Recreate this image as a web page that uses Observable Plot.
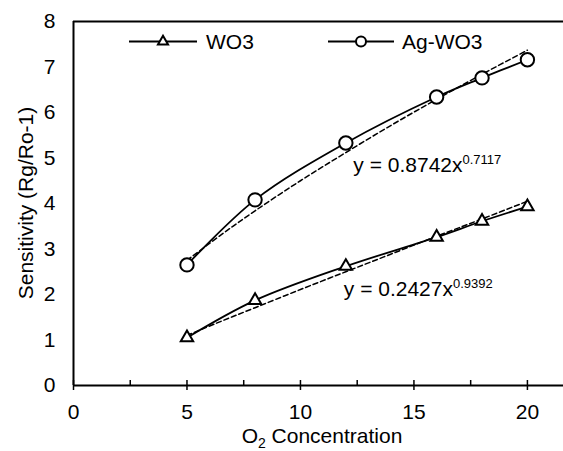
<!DOCTYPE html>
<html>
<head>
<meta charset="utf-8">
<script src="https://cdn.jsdelivr.net/npm/d3@7"></script>
<script src="https://cdn.jsdelivr.net/npm/@observablehq/plot@0.6"></script>
<style>
  html, body { margin: 0; padding: 0; background: #fff; }
  #wrap { position: relative; width: 563px; height: 451px; font-family: "Liberation Sans", Arial, sans-serif; }
  #legend { position: absolute; left: 0; top: 0; pointer-events: none; }
</style>
</head>
<body>
<div id="wrap"></div>
<script>
// ---- data ----
const concentrations = [5, 8, 12, 16, 18, 20];
const wo3Values = [1.05, 1.87, 2.62, 3.26, 3.61, 3.93];
const agWo3Values = [2.65, 4.08, 5.33, 6.34, 6.76, 7.16];
const trendX = [5, 6.5, 8, 10, 12, 14, 16, 18, 20];
const wo3Trend = [1.10, 1.41, 1.71, 2.11, 2.50, 2.89, 3.28, 3.66, 4.05];
const agWo3Trend = [2.75, 3.31, 3.84, 4.50, 5.12, 5.72, 6.29, 6.84, 7.37];
const seriesNames = ["WO3", "Ag-WO3"];
const xMajorTicks = [0, 5, 10, 15, 20];
const xInnerTicks = [0, 2.5, 5, 7.5, 10, 12.5, 15, 17.5, 20];
const yTicks = [0, 1, 2, 3, 4, 5, 6, 7, 8];
const fitLabels = ["y = 0.8742x", "y = 0.2427x"];
const fitExponents = ["0.7117", "0.9392"];

// ---- tables ----
const points = [];
concentrations.forEach((c, i) => points.push({x: c, y: wo3Values[i], s: seriesNames[0]}));
concentrations.forEach((c, i) => points.push({x: c, y: agWo3Values[i], s: seriesNames[1]}));
const trends = [];
trendX.forEach((c, i) => trends.push({x: c, y: wo3Trend[i], s: seriesNames[0]}));
trendX.forEach((c, i) => trends.push({x: c, y: agWo3Trend[i], s: seriesNames[1]}));
const fitNotes = [
  {x: 12.33, y: 4.85, label: fitLabels[0]},
  {x: 11.91, y: 2.11, label: fitLabels[1]}
];

const FONT = "Liberation Sans, Arial, sans-serif";

const plot = Plot.plot({
  width: 563,
  height: 451,
  marginLeft: 73,
  marginRight: 0,
  marginTop: 21,
  marginBottom: 66,
  style: {fontFamily: FONT, fontSize: "21px", color: "#000", background: "#fff", overflow: "visible"},
  x: {domain: [0, 21.59], label: null},
  y: {domain: [0, 8], label: null},
  marks: [
    Plot.axisY({ticks: yTicks, tickSize: 0, tickPadding: 18, label: null, fontSize: 21}),
    Plot.axisX({ticks: xMajorTicks, tickSize: 5, tickPadding: 14, label: null, fontSize: 21, strokeWidth: 1.5}),
    Plot.axisX({ticks: xInnerTicks, tickSize: -5, tickFormat: () => "", label: null, strokeWidth: 1.5}),
    Plot.ruleY([0], {stroke: "#000", strokeWidth: 2}),
    Plot.ruleY([8], {stroke: "#000", strokeWidth: 2}),
    Plot.ruleX([0], {stroke: "#000", strokeWidth: 2}),
    Plot.line(trends, {x: "x", y: "y", z: "s", stroke: "#000", strokeWidth: 1.5, strokeDasharray: "5,3", curve: "catmull-rom"}),
    Plot.line(points, {x: "x", y: "y", z: "s", stroke: "#000", strokeWidth: 1.8, curve: "catmull-rom"}),
    Plot.dot(points.filter(d => d.s === seriesNames[0]), {x: "x", y: "y", symbol: "triangle", r: 4.6, fill: "#fff", stroke: "#000", strokeWidth: 2}),
    Plot.dot(points.filter(d => d.s === seriesNames[1]), {x: "x", y: "y", symbol: "circle", r: 6.7, fill: "#fff", stroke: "#000", strokeWidth: 2}),
    Plot.text(fitNotes, {x: "x", y: "y", text: "label", textAnchor: "start", fontSize: 21, fill: "#000"})
  ]
});

const NS = "http://www.w3.org/2000/svg";
// superscript exponents
plot.querySelectorAll("text").forEach(t => {
  const i = fitLabels.indexOf(t.textContent);
  if (i < 0) return;
  const ts = document.createElementNS(NS, "tspan");
  ts.setAttribute("dy", "-8");
  ts.setAttribute("font-size", "13");
  ts.textContent = fitExponents[i];
  t.appendChild(ts);
});

// axis titles
const xr = plot.scale("x").range;
const yr = plot.scale("y").range;
const xt = document.createElementNS(NS, "text");
xt.setAttribute("x", (xr[0] + xr[1]) / 2 + 4);
xt.setAttribute("y", 443);
xt.setAttribute("text-anchor", "middle");
xt.setAttribute("font-size", "21");
xt.setAttribute("fill", "#000");
xt.appendChild(document.createTextNode("O"));
const sub = document.createElementNS(NS, "tspan");
sub.setAttribute("dy", "5");
sub.setAttribute("font-size", "14");
sub.textContent = "2";
xt.appendChild(sub);
const rest = document.createElementNS(NS, "tspan");
rest.setAttribute("dy", "-5");
rest.textContent = " Concentration";
xt.appendChild(rest);
plot.appendChild(xt);

const yt = document.createElementNS(NS, "text");
yt.setAttribute("transform", `translate(25,${(yr[0] + yr[1]) / 2}) rotate(-90)`);
yt.setAttribute("text-anchor", "middle");
yt.setAttribute("dominant-baseline", "central");
yt.setAttribute("font-size", "21");
yt.setAttribute("fill", "#000");
yt.textContent = "Sensitivity (Rg/Ro-1)";
plot.appendChild(yt);

const wrap = document.getElementById("wrap");
wrap.appendChild(plot);

// legend (inside the plot area, top)
const legend = document.createElementNS(NS, "svg");
legend.setAttribute("id", "legend");
legend.setAttribute("width", 563);
legend.setAttribute("height", 70);
legend.setAttribute("font-family", FONT);
const items = [
  {name: seriesNames[0], x0: 129, x1: 197, mx: 163, tx: 206, sym: "triangle"},
  {name: seriesNames[1], x0: 328, x1: 394, mx: 361, tx: 402, sym: "circle"}
];
const ly = 41.5;
items.forEach(it => {
  const l = document.createElementNS(NS, "line");
  l.setAttribute("x1", it.x0); l.setAttribute("x2", it.x1);
  l.setAttribute("y1", ly); l.setAttribute("y2", ly);
  l.setAttribute("stroke", "#000"); l.setAttribute("stroke-width", "2");
  legend.appendChild(l);
  const p = document.createElementNS(NS, "path");
  const d = d3.symbol(it.sym === "circle" ? d3.symbolCircle : d3.symbolTriangle, it.sym === "circle" ? Math.PI * 25 : Math.PI * 14)();
  p.setAttribute("d", d);
  p.setAttribute("transform", `translate(${it.mx},${ly})`);
  p.setAttribute("fill", "#fff"); p.setAttribute("stroke", "#000"); p.setAttribute("stroke-width", "2");
  legend.appendChild(p);
  const t = document.createElementNS(NS, "text");
  t.setAttribute("x", it.tx); t.setAttribute("y", ly);
  t.setAttribute("dominant-baseline", "central");
  t.setAttribute("font-size", "21");
  t.setAttribute("fill", "#000");
  t.textContent = it.name;
  legend.appendChild(t);
});
wrap.appendChild(legend);
</script>
</body>
</html>
